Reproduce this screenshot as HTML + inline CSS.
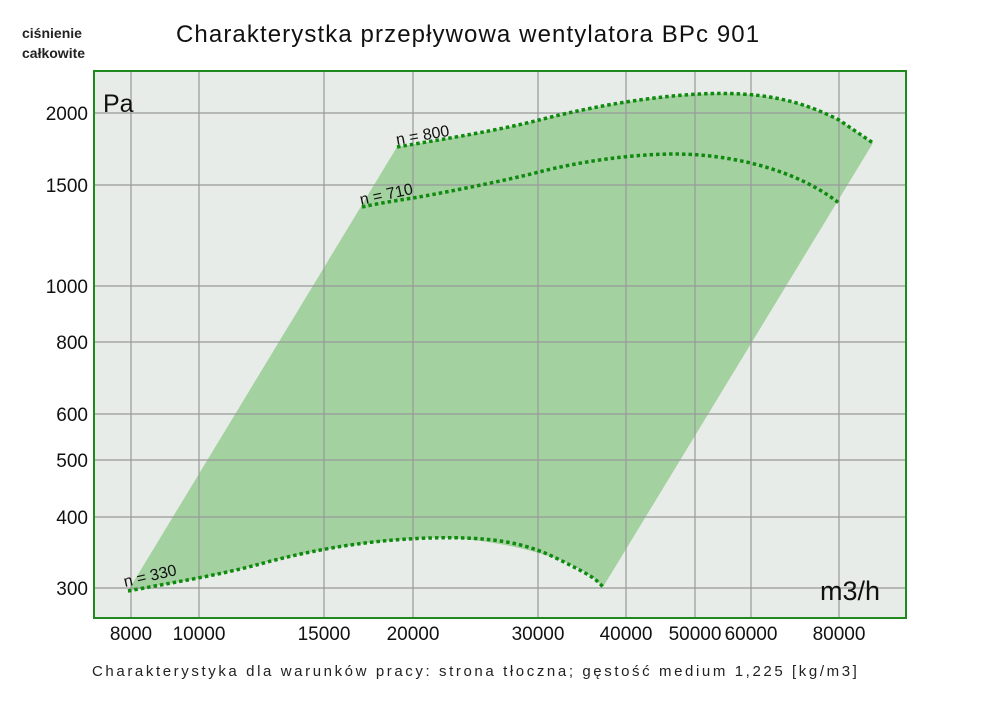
<!DOCTYPE html>
<html><head><meta charset="utf-8"><style>
body{margin:0;background:#fff;}
svg{display:block;font-family:"Liberation Sans","DejaVu Sans",sans-serif;}
</style></head><body>
<svg width="1000" height="706" viewBox="0 0 1000 706" xmlns="http://www.w3.org/2000/svg">
<rect width="1000" height="706" fill="#fff"/>
<text x="22" y="38" font-size="14" font-weight="bold" fill="#222">ciśnienie</text>
<text x="22" y="58" font-size="14" font-weight="bold" fill="#222">całkowite</text>
<text x="176" y="42" font-size="24" fill="#111" letter-spacing="1.1">Charakterystka przepływowa wentylatora BPc 901</text>
<rect x="94" y="71" width="812" height="547" fill="#e7ece8"/>
<path fill="#a3d1a0" d="M128,591 L397,147 C450,138 500,130 539,120 S640,97 700,94 S800,100 839,120 L873,143 L603,587 C595,578 580,568 560,560 S480,536 430,538 S320,548 260,564 S170,583 128,591 Z"/>
<g stroke="#999" stroke-width="1.2">
<line x1="131" y1="71" x2="131" y2="618"/><line x1="199" y1="71" x2="199" y2="618"/>
<line x1="324" y1="71" x2="324" y2="618"/><line x1="413" y1="71" x2="413" y2="618"/>
<line x1="538" y1="71" x2="538" y2="618"/><line x1="626" y1="71" x2="626" y2="618"/>
<line x1="695" y1="71" x2="695" y2="618"/><line x1="751" y1="71" x2="751" y2="618"/>
<line x1="839" y1="71" x2="839" y2="618"/>
<line x1="94" y1="113" x2="906" y2="113"/><line x1="94" y1="185" x2="906" y2="185"/>
<line x1="94" y1="286" x2="906" y2="286"/><line x1="94" y1="342" x2="906" y2="342"/>
<line x1="94" y1="414" x2="906" y2="414"/><line x1="94" y1="460" x2="906" y2="460"/>
<line x1="94" y1="517" x2="906" y2="517"/><line x1="94" y1="588" x2="906" y2="588"/>
</g>
<g fill="none" stroke="#0f8a0f" stroke-width="3.5" stroke-dasharray="3.5,3">
<path d="M397,147 C450,138 500,130 539,120 S640,97 700,94 S800,100 839,120 L873,143"/>
<path d="M362,207 C380,203 400,200 413,198 S500,182 539,172 S630,154 675,154 S790,165 839,203"/>
<path d="M128,591 C170,583 220,575 260,564 S360,540 430,538 S530,545 560,560 S595,578 603,587"/>
</g>
<rect x="94" y="71" width="812" height="547" fill="none" stroke="#1e8a1e" stroke-width="2"/>
<g font-size="16" fill="#111">
<text transform="translate(397,145) rotate(-10)">n = 800</text>
<text transform="translate(361,205) rotate(-12)">n = 710</text>
<text transform="translate(125,587) rotate(-13)">n = 330</text>
</g>
<text x="103" y="112" font-size="25" fill="#111">Pa</text>
<text x="820" y="600" font-size="27" fill="#111">m3/h</text>
<g font-size="19" fill="#111" text-anchor="end">
<text x="88" y="120">2000</text><text x="88" y="192">1500</text>
<text x="88" y="293">1000</text><text x="88" y="349">800</text>
<text x="88" y="421">600</text><text x="88" y="467">500</text>
<text x="88" y="524">400</text><text x="88" y="595">300</text>
</g>
<g font-size="19" fill="#111" text-anchor="middle">
<text x="131" y="640">8000</text><text x="199" y="640">10000</text>
<text x="324" y="640">15000</text><text x="413" y="640">20000</text>
<text x="538" y="640">30000</text><text x="626" y="640">40000</text>
<text x="695" y="640">50000</text><text x="751" y="640">60000</text>
<text x="839" y="640">80000</text>
</g>
<text x="92" y="676" font-size="15" fill="#222" letter-spacing="2.6">Charakterystyka dla warunków pracy: strona tłoczna; gęstość medium 1,225 [kg/m3]</text>
</svg>
</body></html>
